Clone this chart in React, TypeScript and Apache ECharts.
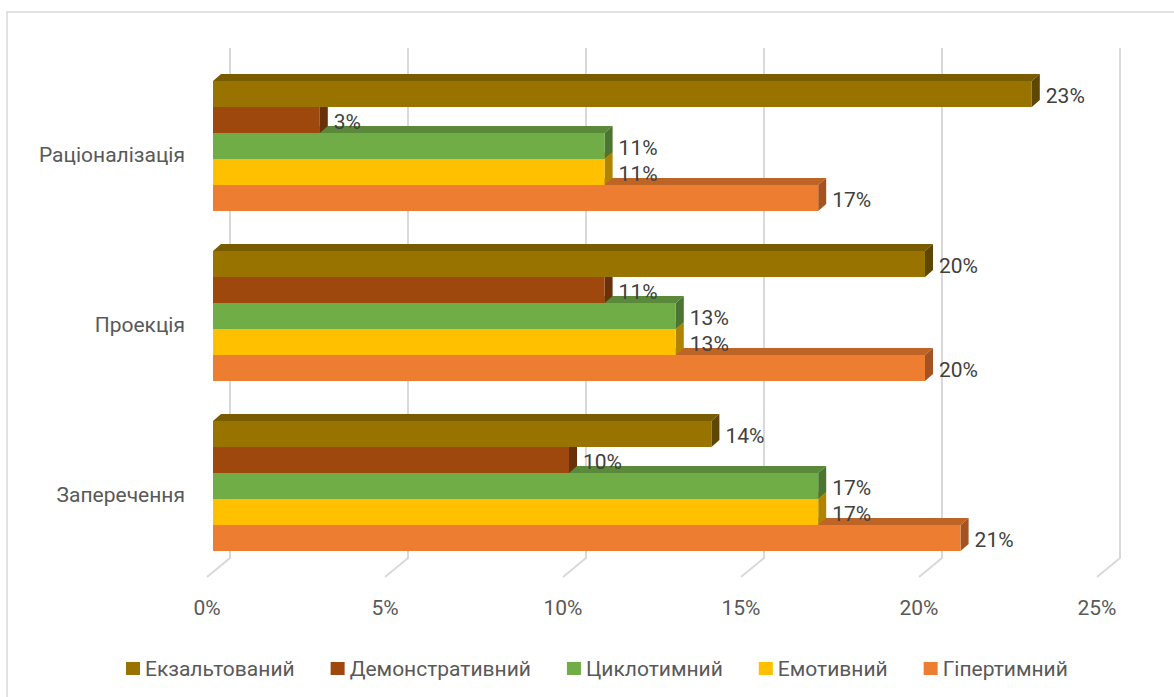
import React, { useEffect, useRef } from "react";
import * as echarts from "echarts";

const categories = ["Заперечення", "Проекція", "Раціоналізація"];
const seriesNames = ["Екзальтований", "Демонстративний", "Циклотимний", "Емотивний", "Гіпертимний"];
const exaltovanyi = [14, 20, 23];
const demonstratyvnyi = [10, 11, 3];
const tsyklotymnyi = [17, 13, 11];
const emotyvnyi = [17, 13, 11];
const hipertymnyi = [21, 20, 17];
const seriesValues = [exaltovanyi, demonstratyvnyi, tsyklotymnyi, emotyvnyi, hipertymnyi];
const xTicks = [0, 5, 10, 15, 20, 25];

const frontColors = ["#997300", "#9E480E", "#70AD47", "#FFC000", "#ED7D31"];
const topColors = ["#7a5c00", "#7e3a0b", "#5a8a39", "#cc9a00", "#be6427"];
const sideColors = ["#5e4700", "#6a3009", "#4b7530", "#b08400", "#a35422"];

const FONT = "Roboto, 'Noto Sans', sans-serif";
const DX = 8;
const DY = -7;
const GROUP_FRAC = 130 / 170;

function makeBarRender(s: number) {
  return (params: any, api: any) => {
    const catIdx = api.value(0);
    const val = api.value(1);
    const base = api.coord([0, catIdx]);
    const end = api.coord([val, catIdx]);
    const band = api.size([0, 1])[1];
    const groupH = band * GROUP_FRAC;
    const barH = groupH / seriesNames.length;
    const y0 = base[1] - groupH / 2 + s * barH;
    const x0 = base[0];
    const x1 = end[0];
    return {
      type: "group",
      children: [
        {
          type: "polygon",
          shape: { points: [[x0, y0], [x0 + DX, y0 + DY], [x1 + DX, y0 + DY], [x1, y0]] },
          style: { fill: topColors[s] },
        },
        {
          type: "polygon",
          shape: { points: [[x1, y0], [x1 + DX, y0 + DY], [x1 + DX, y0 + barH + DY], [x1, y0 + barH]] },
          style: { fill: sideColors[s] },
        },
        {
          type: "rect",
          shape: { x: x0, y: y0, width: x1 - x0, height: barH },
          style: { fill: frontColors[s] },
        },
        {
          type: "text",
          x: x1 + DX + 6,
          y: y0 + barH / 2 + 2,
          style: {
            text: val + "%",
            fill: "#404040",
            fontFamily: FONT,
            fontSize: 21,
            align: "left",
            verticalAlign: "middle",
          },
        },
      ],
    };
  };
}

function gridRender(params: any, api: any) {
  const v = api.value(0);
  const p = api.coord([v, 0]);
  const cs = params.coordSys;
  const top = cs.y;
  const bottom = cs.y + cs.height;
  const px = p[0];
  return {
    type: "polyline",
    shape: { points: [[px + 17, top - 13], [px + 17, bottom - 13], [px - 6, bottom + 6]] },
    style: { stroke: "#d9d9d9", lineWidth: 2, fill: "none" },
  };
}

export default function App() {
  const ref = useRef<HTMLDivElement>(null);
  useEffect(() => {
    if (!ref.current) return;
    const chart = echarts.init(ref.current, undefined, { renderer: "svg" });
    const barSeries = seriesNames.map((name, s) => ({
      name,
      type: "custom",
      renderItem: makeBarRender(s),
      encode: { y: 0, x: 1 },
      data: seriesValues[s].map((v, i) => [i, v]),
      itemStyle: { color: frontColors[s] },
      z: 10 + (seriesNames.length - s),
      clip: false,
    }));
    chart.setOption({
      animation: false,
      backgroundColor: "#ffffff",
      graphic: [
        {
          type: "rect",
          shape: { x: 7, y: 12, width: 1200, height: 720 },
          style: { fill: "none", stroke: "#d9d9d9", lineWidth: 1.5 },
          z: 0,
        },
      ],
      grid: { left: 213, right: 71, top: 61, bottom: 126, containLabel: false },
      xAxis: {
        type: "value",
        min: 0,
        max: 25,
        interval: 5,
        axisLine: { show: false },
        axisTick: { show: false },
        splitLine: { show: false },
        axisLabel: {
          formatter: "{value}%",
          color: "#595959",
          fontFamily: FONT,
          fontSize: 21,
          margin: 26,
          padding: [0, 12, 0, 0],
        },
      },
      yAxis: {
        type: "category",
        data: categories,
        axisLine: { show: false },
        axisTick: { show: false },
        splitLine: { show: false },
        axisLabel: {
          color: "#595959",
          fontFamily: FONT,
          fontSize: 21,
          margin: 28,
          verticalAlign: "top",
          lineHeight: 18,
        },
      },
      legend: {
        data: seriesNames,
        left: 121,
        top: 653,
        icon: "rect",
        itemWidth: 14,
        itemHeight: 13,
        itemGap: 36,
        textStyle: { color: "#595959", fontFamily: FONT, fontSize: 21 },
      },
      series: [
        {
          name: "grid",
          type: "custom",
          renderItem: gridRender,
          encode: { x: 0, y: 1 },
          data: xTicks.map((t) => [t, 0]),
          z: 1,
          silent: true,
          clip: false,
        },
        ...barSeries,
      ],
    });
    return () => chart.dispose();
  }, []);
  return (
    <div
      ref={ref}
      style={{ position: "absolute", left: 0, top: 0, width: 1174, height: 697 }}
    />
  );
}
